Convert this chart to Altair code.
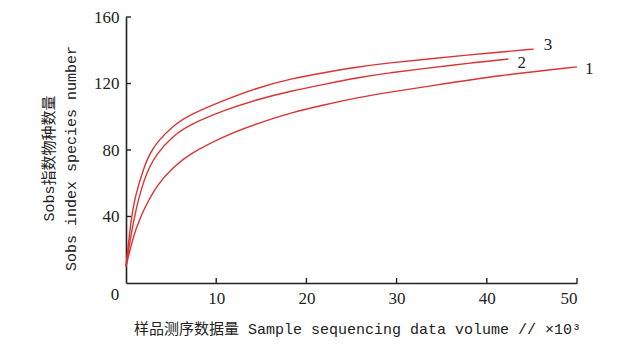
import altair as alt
import pandas as pd

# Rarefaction curves, x in thousands of reads
s1_x = [0, 0.9, 1.55, 2.0, 3.47, 5.3, 7.0, 10.9, 14.6, 18.3, 21.95, 25.6, 29.3, 33.0, 41.5, 50.0]
s1_y = [10, 30, 38.5, 44.5, 59.5, 70, 77.5, 88.5, 96, 102.5, 107.1, 111.5, 114.9, 117.9, 125, 130]
s2_x = [0, 0.8, 2.0, 3.3, 5.3, 7.17, 10.9, 14.6, 18.3, 21.95, 25.6, 29.3, 33.0, 38.0, 42.4]
s2_y = [10, 38, 63.5, 77.5, 89, 95.5, 104, 110.5, 115.5, 119.5, 123.5, 126.5, 128.9, 132.3, 134.7]
s3_x = [0, 0.55, 1.0, 2.0, 2.66, 3.47, 5.3, 7.17, 10.9, 14.6, 18.3, 21.95, 25.6, 29.3, 33.0, 41.5, 45.2]
s3_y = [10, 38, 52, 70, 78, 85, 95, 101.5, 110, 117.5, 122.9, 126.5, 129.9, 132.5, 134.5, 139, 140.7]
series_names = ["1", "2", "3"]

x_ticks = [10, 20, 30, 40, 50]
y_ticks = [40, 80, 120, 160]

rows = []
for name, xs, ys in zip(series_names, [s1_x, s2_x, s3_x], [s1_y, s2_y, s3_y]):
    for i, (a, b) in enumerate(zip(xs, ys)):
        rows.append({"s": name, "x": a, "y": b, "o": i})
df = pd.DataFrame(rows)

ends = pd.DataFrame([
    {"s": n, "x": xs[-1], "y": ys[-1]}
    for n, xs, ys in zip(series_names, [s1_x, s2_x, s3_x], [s1_y, s2_y, s3_y])
])

RED = "#d93434"
NUM_FONT = "Liberation Serif"
TITLE_FONT = "Liberation Mono, Noto Sans CJK SC"

xscale = alt.Scale(domain=[0, 50], nice=False, zero=True)
yscale = alt.Scale(domain=[0, 160], nice=False)

xaxis = alt.Axis(
    values=x_ticks, ticks=False, grid=False, labelPadding=7,
    labelFont=NUM_FONT, labelFontSize=17, labelColor="#222",
    domainColor="#222", domainWidth=1.6,
    title="样品测序数据量 Sample sequencing data volume // ×10³",
    titleFont=TITLE_FONT, titleFontSize=15, titleFontWeight="normal",
    titleColor="#222", titleX=231, titleY=45, titleBaseline="middle",
    titleAlign="center",
)
yaxis = alt.Axis(
    values=y_ticks, ticks=False, grid=False, labelPadding=7,
    labelFont=NUM_FONT, labelFontSize=17, labelColor="#222",
    domainColor="#222", domainWidth=1.6,
    title=["Sobs指数物种数量", "Sobs index species number"],
    titleFont=TITLE_FONT, titleFontSize=15, titleFontWeight="normal",
    titleColor="#222", titleAngle=270, titleX=-78, titleY=141,
    titleBaseline="middle", titleAlign="center", titleLineHeight=22,
)

lines = alt.Chart(df).mark_line(color=RED, strokeWidth=1.4, interpolate="basis").encode(
    x=alt.X("x:Q", scale=xscale, axis=xaxis),
    y=alt.Y("y:Q", scale=yscale, axis=yaxis),
    detail="s:N",
    order="o:Q",
)

label_dx = {"1": 8, "2": 9, "3": 10}
label_dy = {"1": 2, "2": 4, "3": -4}
labels = alt.layer(*[
    alt.Chart(ends[ends.s == n]).mark_text(
        font=NUM_FONT, fontSize=17, color="#222", align="left",
        baseline="middle", dx=label_dx[n], dy=label_dy[n]
    ).encode(x=alt.X("x:Q", scale=xscale), y=alt.Y("y:Q", scale=yscale), text="s:N")
    for n in series_names
])

xt = alt.Chart(pd.DataFrame({"x": x_ticks})).mark_rule(color="#222", strokeWidth=1.4).encode(
    x=alt.X("x:Q", scale=xscale), y=alt.value(266), y2=alt.value(261)
)
yt = alt.Chart(pd.DataFrame({"y": y_ticks})).mark_rule(color="#222", strokeWidth=1.4).encode(
    y=alt.Y("y:Q", scale=yscale), x=alt.value(0), x2=alt.value(5)
)
zero = alt.Chart(pd.DataFrame({"x": [0], "y": [0], "t": ["0"]})).mark_text(
    font=NUM_FONT, fontSize=17, color="#222", dx=-11, dy=12
).encode(x=alt.X("x:Q", scale=xscale), y=alt.Y("y:Q", scale=yscale), text="t:N")

chart = alt.layer(lines, xt, yt, zero, labels).properties(
    width=451, height=266,
    autosize=alt.AutoSizeParams(type="none"),
    padding={"left": 118, "top": 9, "right": 40, "bottom": 54},
    background="white",
).configure_view(stroke=None)

chart.save("out.html", embed_options={"renderer": "svg", "actions": False})
